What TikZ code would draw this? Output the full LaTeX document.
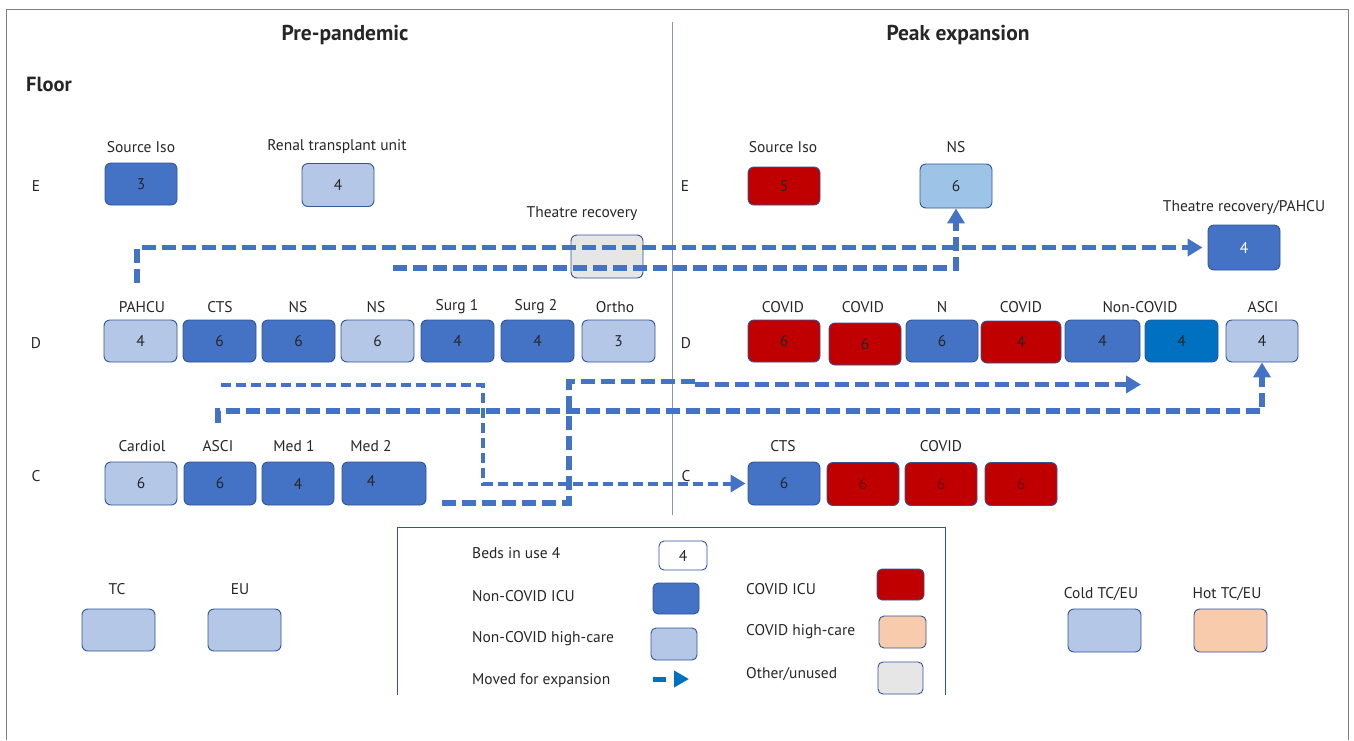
\documentclass[tikz,border=0pt]{standalone}
\usepackage{fontspec}
\setmainfont{PT Sans}
\usetikzlibrary{arrows.meta}
\definecolor{dk}{HTML}{4472C4}
\definecolor{lt}{HTML}{B4C7E7}
\definecolor{rd}{HTML}{C00000}
\definecolor{pch}{HTML}{F8CBAD}
\definecolor{gry}{HTML}{E7E6E6}
\definecolor{skyb}{HTML}{9DC3E6}
\definecolor{midb}{HTML}{0070C0}
\definecolor{bd}{HTML}{2F5597}
\definecolor{tx}{HTML}{262626}
\definecolor{divc}{HTML}{8497B0}
\definecolor{framec}{HTML}{7F7F7F}
\definecolor{dred}{HTML}{6E0000}
\newcommand\myfs{\fontsize{15.5}{17}\selectfont}
\newcommand\myttl{\fontsize{21.5}{24}\selectfont\bfseries}
\begin{document}
\begin{tikzpicture}[x=1pt,y=-1pt,
  unit/.style={draw=bd, line width=0.9pt, rounded corners=6pt, minimum width=72pt, minimum height=42pt, inner sep=0pt, font=\myfs, text=tx},
  legbox/.style={draw=bd, line width=0.9pt, rounded corners=5pt, inner sep=0pt, font=\myfs, text=tx},
  lbl/.style={inner sep=0pt, font=\myfs, text=tx},
  ttl/.style={inner sep=0pt, font=\myttl, text=tx},
  mv/.style={draw=dk, line width=5.5pt, dash pattern=on 14pt off 6pt},
  mvthin/.style={draw=dk, line width=4pt, dash pattern=on 10pt off 5pt},
  tip/.style={-{Triangle[length=15pt,width=17pt]}}]
\useasboundingbox (0,0) rectangle (1354,740);
% frame and divider
\draw[framec, line width=1pt] (6,740) -- (6,9) -- (1348,9) -- (1348,740);
\draw[divc, line width=0.9pt] (672,22) -- (672,515);
% titles
\node[ttl] (tpre) at (345,35) {Pre-pandemic};
\node[ttl] (tpeak) at (958,35) {Peak expansion};
\node[ttl, font=\fontsize{20.5}{23}\selectfont\bfseries] (tfloor) at (49,84) {Floor};
% floor letters
\node[lbl] (fEL) at (36,186) {E};
\node[lbl] (fDL) at (36,343) {D};
\node[lbl] (fCL) at (36,476) {C};
\node[lbl] (fER) at (685,186) {E};
\node[lbl] (fDR) at (686,343) {D};
\node[lbl] (fCR) at (686,476) {C};
% ---- left E
\node[unit, fill=dk] (srcL) at (141,184) {3};
\node[lbl] (srcLl) at (141,147) {Source Iso};
\node[unit, fill=lt, minimum height=43pt] (renal) at (338,185) {4};
\node[lbl] (renall) at (337,147) {Renal transplant unit};
\node[unit, fill=gry, minimum height=43pt] (theatre) at (607,256.5) {};
\node[lbl] (theatrel) at (582,214) {Theatre recovery};
% ---- left D
\node[unit, fill=lt, minimum width=73pt] (pahcu) at (140.5,341) {4};
\node[unit, fill=dk, minimum width=73pt] (ctsL) at (219.5,341) {6};
\node[unit, fill=dk, minimum width=73pt] (nsL1) at (298.5,341) {6};
\node[unit, fill=lt, minimum width=73pt] (nsL2) at (377.5,341) {6};
\node[unit, fill=dk, minimum width=73pt] (surg1) at (457.5,341) {4};
\node[unit, fill=dk, minimum width=73pt] (surg2) at (537.5,341) {4};
\node[unit, fill=lt, minimum width=73pt] (ortho) at (618.5,341) {3};
\node[lbl] (pahcul) at (142,307) {PAHCU};
\node[lbl] (ctsLl) at (220,307) {CTS};
\node[lbl] (nsL1l) at (298,307) {NS};
\node[lbl] (nsL2l) at (376,307) {NS};
\node[lbl] (surg1l) at (457,307) {Surg 1};
\node[lbl] (surg2l) at (536,307) {Surg 2};
\node[lbl] (orthol) at (615,307) {Ortho};
% ---- left C
\node[unit, fill=lt, minimum height=43pt] (cardiol) at (141,483.5) {6};
\node[unit, fill=dk, minimum height=43pt] (asciL) at (220,483.5) {6};
\node[unit, fill=dk, minimum height=43pt] (med1) at (298,483.5) {4};
\node[unit, fill=dk, minimum height=43pt, minimum width=84pt] (med2) at (384,483.5) {};
\node[lbl] (med2n) at (371,481) {4};
\node[lbl] (cardioll) at (142,446) {Cardiol};
\node[lbl] (asciLl) at (218,446) {ASCI};
\node[lbl] (med1l) at (294,446) {Med 1};
\node[lbl] (med2l) at (371,446) {Med 2};
% ---- right E
\node[unit, fill=rd, minimum height=38pt] (srcR) at (784,186) {5};
\node[lbl] (srcRl) at (783,147) {Source Iso};
\node[unit, fill=skyb, minimum height=44pt] (nsR) at (956,186) {6};
\node[lbl] (nsRl) at (956,147) {NS};
\node[unit, fill=dk, minimum height=45pt, text=white] (trpR) at (1244,247.5) {4};
\node[lbl] (trpRl) at (1244,208) {Theatre recovery/PAHCU};
% ---- right D
\node[unit, fill=rd] (cov1) at (784,341) {6};
\node[unit, fill=rd] (cov2) at (865,344) {6};
\node[unit, fill=dk] (nR) at (942,341) {6};
\node[unit, fill=rd, minimum width=80pt] (cov3) at (1021,342) {4};
\node[unit, fill=dk, minimum width=75pt] (ncov1) at (1102.5,341) {4};
\node[unit, fill=midb, minimum width=73pt] (ncov2) at (1181.5,341) {4};
\node[unit, fill=lt] (asciR) at (1262,341) {4};
\node[lbl] (cov1l) at (783,307) {COVID};
\node[lbl] (cov2l) at (863,307) {COVID};
\node[lbl] (nRl) at (942,307) {N};
\node[lbl] (cov3l) at (1021,307) {COVID};
\node[lbl] (ncovl) at (1140,307) {Non-COVID};
\node[lbl] (asciRl) at (1263,307) {ASCI};
% ---- right C
\node[unit, fill=dk, minimum height=43pt] (ctsR) at (784,483.5) {6};
\node[unit, fill=rd, minimum height=43pt, text=dred] (cc1) at (863,484) {6};
\node[unit, fill=rd, minimum height=43pt, text=dred] (cc2) at (941,484) {6};
\node[unit, fill=rd, minimum height=43pt, text=dred] (cc3) at (1021,484) {6};
\node[lbl] (ctsRl) at (783,446) {CTS};
\node[lbl] (cc2l) at (941,446) {COVID};
% ---- bottom TC/EU
\node[unit, fill=lt, minimum width=73pt] (tc) at (118.5,630) {};
\node[lbl] (tcl) at (117,589) {TC};
\node[unit, fill=lt, minimum width=73pt] (eu) at (244.5,630) {};
\node[lbl] (eul) at (240,589) {EU};
\node[unit, fill=lt, minimum width=73pt, minimum height=43pt] (cold) at (1104.5,630.5) {};
\node[lbl] (coldl) at (1101,594) {Cold TC/EU};
\node[unit, fill=pch, minimum width=73pt, minimum height=43pt] (hot) at (1230.5,630.5) {};
\node[lbl] (hotl) at (1227,594) {Hot TC/EU};
% ---- legend
\draw[bd, line width=0.9pt] (397,695) -- (397,527) -- (945,527) -- (945,695);
\node[lbl, anchor=west] (lg1) at (472,553) {Beds in use 4};
\node[lbl, anchor=west] (lg2) at (472,596) {Non-COVID ICU};
\node[lbl, anchor=west] (lg3) at (472,639) {Non-COVID high-care};
\node[lbl, anchor=west] (lg4) at (472,681) {Moved for expansion};
\node[lbl, anchor=west] (lg5) at (746,589) {COVID ICU};
\node[lbl, anchor=west] (lg6) at (746,632) {COVID high-care};
\node[lbl, anchor=west] (lg7) at (746,674) {Other/unused};
\node[legbox, fill=white, minimum width=48pt, minimum height=29pt] (bedsBox) at (683,555.5) {4};
\node[legbox, fill=dk, minimum width=46pt, minimum height=31pt] (nciBox) at (676,598.5) {};
\node[legbox, fill=lt, minimum width=46pt, minimum height=32pt] (nchBox) at (674,644) {};
\node[legbox, fill=rd, minimum width=47pt, minimum height=31pt] (cicuBox) at (900.5,584.5) {};
\node[legbox, fill=pch, minimum width=47pt, minimum height=32pt] (chcBox) at (902.5,632) {};
\node[legbox, fill=gry, minimum width=45pt, minimum height=32pt] (othBox) at (900.5,678) {};
\coordinate (lgas) at (653,679);
\coordinate (lgae) at (689,679);
\draw[midb, line width=5pt, dash pattern=on 13pt off 8pt, -{Triangle[length=15pt,width=16pt]}] (lgas) -- (lgae);
% ---- moves (dashed arrows)
\coordinate (m1s) at (137,283);
\draw[mv, tip, shorten >=5pt] (m1s) |- (trpR.west);
\coordinate (m2s) at (393,268);
\draw[mv, tip] (m2s) -| (nsR.south);
\coordinate (m3s) at (221,385);
\coordinate (m3a) at (483,385);
\draw[mvthin, tip, shorten >=2pt] (m3s) -- (m3a) |- (ctsR.west);
\coordinate (m4s) at (442,503);
\coordinate (m4a) at (569,503);
\coordinate (m4b) at (569,381.5);
\coordinate (m4c) at (695,381.5);
\coordinate (m4d) at (695,384.5);
\coordinate (m4e) at (1141,384.5);
\draw[mv] (m4s) -- (m4a) -- (m4b) -- (m4c);
\draw[mv, tip] (m4d) -- (m4e);
\coordinate (m5s) at (218,423);
\draw[mv, tip] (m5s) -- ++(0,-12) -| (asciR.south);
\end{tikzpicture}
\end{document}
